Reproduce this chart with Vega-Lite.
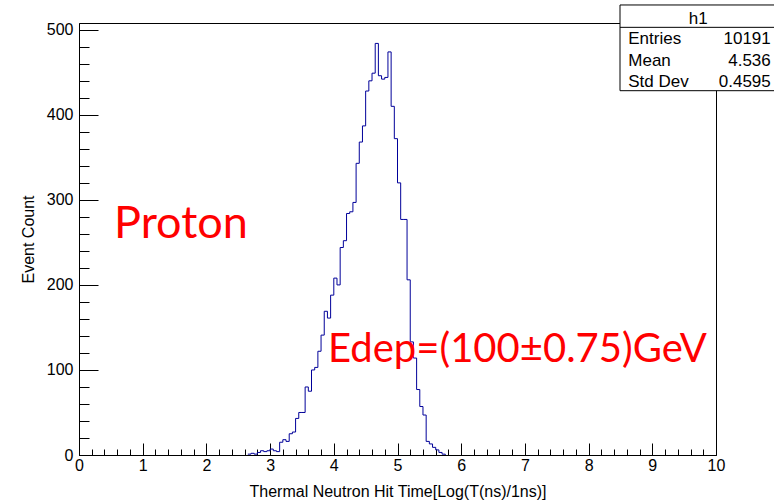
{
  "$schema": "https://vega.github.io/schema/vega-lite/v6.json",
  "width": 637,
  "height": 432,
  "autosize": "none",
  "padding": {"left": 79, "top": 23, "right": 58, "bottom": 48},
  "background": "white",
  "config": {
    "view": {"stroke": "black", "strokeWidth": 1},
    "font": "Liberation Sans",
    "axis": {
      "grid": false, "domainColor": "black", "tickColor": "black", "labelColor": "black", "titleColor": "black",
      "labelFont": "Liberation Sans", "titleFont": "Liberation Sans", "labelFontSize": 16, "titleFontSize": 16,
      "titleFontWeight": "normal", "domainWidth": 1, "tickWidth": 1, "labelFlush": false, "labelOverlap": false
    }
  },
  "datasets": {
    "hist": [
      {"x": 2.65, "n": 1}, {"x": 2.70, "n": 2}, {"x": 2.75, "n": 1}, {"x": 2.80, "n": 3}, {"x": 2.85, "n": 5},
      {"x": 2.90, "n": 4}, {"x": 2.95, "n": 5}, {"x": 3.00, "n": 7}, {"x": 3.05, "n": 5}, {"x": 3.10, "n": 4},
      {"x": 3.15, "n": 15}, {"x": 3.20, "n": 18}, {"x": 3.25, "n": 16}, {"x": 3.30, "n": 25}, {"x": 3.35, "n": 27},
      {"x": 3.40, "n": 43}, {"x": 3.45, "n": 50}, {"x": 3.50, "n": 50}, {"x": 3.55, "n": 80}, {"x": 3.60, "n": 75},
      {"x": 3.65, "n": 100}, {"x": 3.70, "n": 103}, {"x": 3.75, "n": 122}, {"x": 3.80, "n": 141}, {"x": 3.85, "n": 169},
      {"x": 3.90, "n": 161}, {"x": 3.95, "n": 188}, {"x": 4.00, "n": 208}, {"x": 4.05, "n": 200}, {"x": 4.10, "n": 244},
      {"x": 4.15, "n": 252}, {"x": 4.20, "n": 284}, {"x": 4.25, "n": 286}, {"x": 4.30, "n": 297}, {"x": 4.35, "n": 343},
      {"x": 4.40, "n": 368}, {"x": 4.45, "n": 387}, {"x": 4.50, "n": 428}, {"x": 4.55, "n": 440}, {"x": 4.60, "n": 449},
      {"x": 4.65, "n": 484}, {"x": 4.70, "n": 446}, {"x": 4.75, "n": 442}, {"x": 4.80, "n": 444}, {"x": 4.85, "n": 474},
      {"x": 4.90, "n": 410}, {"x": 4.95, "n": 372}, {"x": 5.00, "n": 320}, {"x": 5.05, "n": 277}, {"x": 5.10, "n": 277},
      {"x": 5.15, "n": 206}, {"x": 5.20, "n": 133}, {"x": 5.25, "n": 114}, {"x": 5.30, "n": 77}, {"x": 5.35, "n": 57},
      {"x": 5.40, "n": 47}, {"x": 5.45, "n": 16}, {"x": 5.50, "n": 13}, {"x": 5.55, "n": 9}, {"x": 5.60, "n": 6},
      {"x": 5.65, "n": 3}, {"x": 5.70, "n": 1}, {"x": 5.75, "n": 0}
    ],
    "stats": [
      {"stat": "Entries", "value": "10191"},
      {"stat": "Mean", "value": "4.536"},
      {"stat": "Std Dev", "value": "0.4595"}
    ]
  },
  "layer": [
    {
      "data": {"name": "hist"},
      "mark": {"type": "line", "interpolate": "step-after", "color": "#000099", "strokeWidth": 1},
      "encoding": {
        "x": {"field": "x", "type": "quantitative", "scale": {"domain": [0, 10], "nice": false, "zero": false},
          "axis": {"orient": "bottom", "values": [0,1,2,3,4,5,6,7,8,9,10], "tickSize": -12, "labelPadding": 14,
            "title": "Thermal Neutron Hit Time[Log(T(ns)/1ns)]", "titleY": 36, "titleBaseline": "middle"}},
        "y": {"field": "n", "type": "quantitative", "scale": {"domain": [0, 508], "nice": false, "zero": false},
          "axis": {"orient": "left", "values": [0,100,200,300,400,500], "tickSize": -19, "labelPadding": 25,
            "title": "Event Count", "titleX": -51, "titleY": 216, "titleAngle": 270, "titleBaseline": "middle", "titleAlign": "center"}}
      }
    },
    {
      "data": {"values": [{}]},
      "mark": {"type": "rect", "fill": "white", "stroke": "black", "strokeWidth": 1},
      "encoding": {
        "x": {"datum": 8.493, "type": "quantitative", "scale": {"domain": [0, 10], "nice": false, "zero": false},
          "axis": {"orient": "bottom", "values": [0.2,0.4,0.6,0.8,1.2,1.4,1.6,1.8,2.2,2.4,2.6,2.8,3.2,3.4,3.6,3.8,4.2,4.4,4.6,4.8,5.2,5.4,5.6,5.8,6.2,6.4,6.6,6.8,7.2,7.4,7.6,7.8,8.2,8.4,8.6,8.8,9.2,9.4,9.6,9.8],
            "tickSize": -6, "labels": false, "domain": false, "title": null}},
        "x2": {"datum": 10.95},
        "y": {"datum": 428.4, "type": "quantitative", "scale": {"domain": [0, 508], "nice": false, "zero": false},
          "axis": {"orient": "left", "values": [20,40,60,80,120,140,160,180,220,240,260,280,320,340,360,380,420,440,460,480],
            "tickSize": -10, "labels": false, "domain": false, "title": null}},
        "y2": {"datum": 529.2}
      }
    },
    {
      "data": {"values": [{}]},
      "mark": {"type": "rule", "color": "black", "strokeWidth": 1},
      "encoding": {
        "x": {"datum": 8.493, "type": "quantitative", "scale": {"domain": [0, 10], "nice": false, "zero": false}, "axis": null},
        "x2": {"datum": 10.95},
        "y": {"datum": 502.9, "type": "quantitative", "scale": {"domain": [0, 508], "nice": false, "zero": false}, "axis": null}
      }
    },
    {
      "data": {"values": [{"name": "h1"}]},
      "mark": {"type": "text", "align": "center", "baseline": "middle", "fontSize": 17, "font": "Liberation Sans", "color": "black"},
      "encoding": {
        "x": {"datum": 9.72, "type": "quantitative", "scale": {"domain": [0, 10], "nice": false, "zero": false}, "axis": null},
        "y": {"datum": 512.7, "type": "quantitative", "scale": {"domain": [0, 508], "nice": false, "zero": false}, "axis": null},
        "text": {"field": "name"}
      }
    },
    {
      "data": {"name": "stats"},
      "transform": [{"filter": "datum.stat === 'Entries'"}],
      "encoding": {"y": {"datum": 488.6, "type": "quantitative", "scale": {"domain": [0, 508], "nice": false, "zero": false}, "axis": null}},
      "layer": [
        {"mark": {"type": "text", "align": "left", "baseline": "middle", "fontSize": 17, "font": "Liberation Sans", "color": "black"},
         "encoding": {"x": {"datum": 8.623, "type": "quantitative", "scale": {"domain": [0, 10], "nice": false, "zero": false}, "axis": null}, "text": {"field": "stat"}}},
        {"mark": {"type": "text", "align": "right", "baseline": "middle", "fontSize": 17, "font": "Liberation Sans", "color": "black"},
         "encoding": {"x": {"datum": 10.86, "type": "quantitative", "scale": {"domain": [0, 10], "nice": false, "zero": false}, "axis": null}, "text": {"field": "value"}}}
      ]
    },
    {
      "data": {"name": "stats"},
      "transform": [{"filter": "datum.stat === 'Mean'"}],
      "encoding": {"y": {"datum": 463.9, "type": "quantitative", "scale": {"domain": [0, 508], "nice": false, "zero": false}, "axis": null}},
      "layer": [
        {"mark": {"type": "text", "align": "left", "baseline": "middle", "fontSize": 17, "font": "Liberation Sans", "color": "black"},
         "encoding": {"x": {"datum": 8.623, "type": "quantitative", "scale": {"domain": [0, 10], "nice": false, "zero": false}, "axis": null}, "text": {"field": "stat"}}},
        {"mark": {"type": "text", "align": "right", "baseline": "middle", "fontSize": 17, "font": "Liberation Sans", "color": "black"},
         "encoding": {"x": {"datum": 10.86, "type": "quantitative", "scale": {"domain": [0, 10], "nice": false, "zero": false}, "axis": null}, "text": {"field": "value"}}}
      ]
    },
    {
      "data": {"name": "stats"},
      "transform": [{"filter": "datum.stat === 'Std Dev'"}],
      "encoding": {"y": {"datum": 439.2, "type": "quantitative", "scale": {"domain": [0, 508], "nice": false, "zero": false}, "axis": null}},
      "layer": [
        {"mark": {"type": "text", "align": "left", "baseline": "middle", "fontSize": 17, "font": "Liberation Sans", "color": "black"},
         "encoding": {"x": {"datum": 8.623, "type": "quantitative", "scale": {"domain": [0, 10], "nice": false, "zero": false}, "axis": null}, "text": {"field": "stat"}}},
        {"mark": {"type": "text", "align": "right", "baseline": "middle", "fontSize": 17, "font": "Liberation Sans", "color": "black"},
         "encoding": {"x": {"datum": 10.86, "type": "quantitative", "scale": {"domain": [0, 10], "nice": false, "zero": false}, "axis": null}, "text": {"field": "value"}}}
      ]
    },
    {
      "data": {"values": [{"label": "Proton"}]},
      "mark": {"type": "text", "align": "left", "baseline": "alphabetic", "fontSize": 45, "font": "Lato", "color": "#ff0000"},
      "encoding": {
        "x": {"datum": 0.55, "type": "quantitative", "scale": {"domain": [0, 10], "nice": false, "zero": false}, "axis": null},
        "y": {"datum": 255.2, "type": "quantitative", "scale": {"domain": [0, 508], "nice": false, "zero": false}, "axis": null},
        "text": {"field": "label"}
      }
    },
    {
      "data": {"values": [{"label": "Edep=(100±0.75)GeV"}]},
      "mark": {"type": "text", "align": "left", "baseline": "alphabetic", "fontSize": 40, "font": "Lato", "color": "#ff0000"},
      "encoding": {
        "x": {"datum": 3.91, "type": "quantitative", "scale": {"domain": [0, 10], "nice": false, "zero": false}, "axis": null},
        "y": {"datum": 109.4, "type": "quantitative", "scale": {"domain": [0, 508], "nice": false, "zero": false}, "axis": null},
        "text": {"field": "label"}
      }
    }
  ],
  "resolve": {"axis": {"x": "independent", "y": "independent"}}
}
